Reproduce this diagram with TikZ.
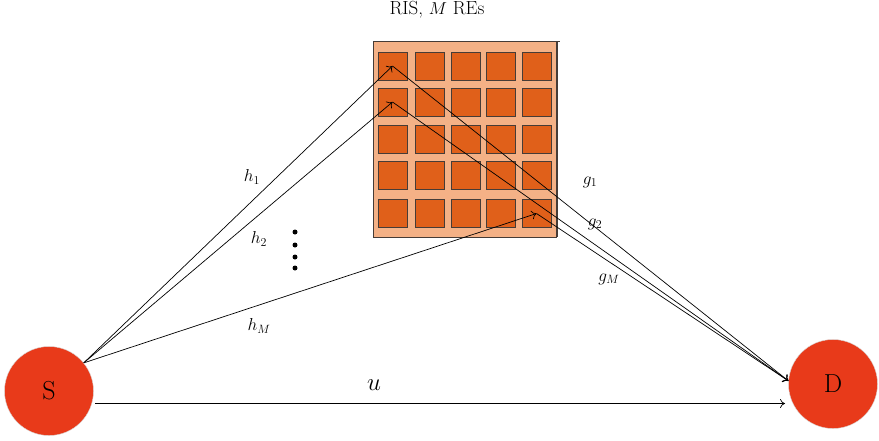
\documentclass[tikz,border=0pt]{standalone}
\usetikzlibrary{arrows.meta}
\definecolor{nodered}{RGB}{232,58,26}
\definecolor{boardfill}{RGB}{244,177,134}
\definecolor{cellfill}{RGB}{224,96,26}
\definecolor{celledge}{RGB}{70,60,55}
\tikzset{
  term/.style={circle,fill=nodered,draw=black!15,line width=0.4pt,minimum size=89pt,inner sep=0pt,font=\fontsize{26}{30}\selectfont},
  cell/.style={rectangle,fill=cellfill,draw=celledge,line width=0.8pt,minimum width=29pt,minimum height=28pt,inner sep=0pt},
  link/.style={line width=0.7pt,-{To[length=5pt,width=9pt]}},
  lab/.style={font=\fontsize{18}{22}\selectfont,inner sep=0pt},
  dotm/.style={circle,fill=black,inner sep=0pt,minimum size=5pt}
}
\begin{document}
\begin{tikzpicture}[x=1pt,y=-1pt]
\useasboundingbox (0,0) rectangle (879,440);
% RIS board
\node[lab,font=\fontsize{19}{22}\selectfont] (title) at (437,10) {RIS, $M$ REs};
\fill[boardfill] (373,41.5) rectangle (557,237);
\draw[celledge,line width=0.8pt] (373,237) -- (373,41.5) -- (560,41.5);
\draw[celledge,line width=0.8pt] (373,237) -- (557,237);
\draw[celledge,line width=1.6pt] (557,41.5) -- (557,237);
\foreach \cx [count=\i] in {392.5,429.5,465.5,500.5,536.5}{
  \foreach \cy [count=\j] in {66,102,139,175,213.5}{
    \node[cell] (c\j\i) at (\cx,\cy) {};
  }
}
% terminals
\node[term] (S) at (49,391) {S};
\node[term] (D) at (833,384) {D};
\coordinate (u0) at (95,403.5);
\coordinate (u1) at (785,403.5);
% links
\draw[link] (S.39) -- (c11.center);
\draw[link] (S.39) -- (c21.center);
\draw[link] (S.39) -- (c55.center);
\draw[link] (c11.center) -- (D.176);
\draw[link] (c21.center) -- (D.176);
\draw[link] (c55.center) -- (D.176);
\draw[link] (u0) -- (u1);
% labels
\node[lab] (h1) at (252,177) {$h_1$};
\node[lab] (h2) at (259,239) {$h_2$};
\node[lab] (hM) at (259,326) {$h_M$};
\node[lab] (g1) at (590,182) {$g_1$};
\node[lab] (g2) at (595,224) {$g_2$};
\node[lab] (gM) at (609,279) {$g_M$};
\node[lab,font=\fontsize{26}{30}\selectfont] (u) at (374,385) {$u$};
% dots
\node[dotm] (d1) at (295,232) {};
\node[dotm] (d2) at (295,245) {};
\node[dotm] (d3) at (295,257) {};
\node[dotm] (d4) at (295,268) {};
\end{tikzpicture}
\end{document}
